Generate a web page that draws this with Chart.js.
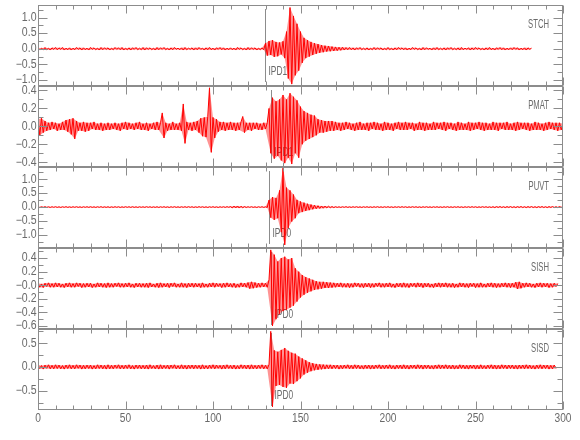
<!DOCTYPE html>
<html>
<head>
<meta charset="utf-8">
<script src="https://cdn.jsdelivr.net/npm/chart.js@4.4.1/dist/chart.umd.min.js"></script>
<style>
  html, body { margin: 0; padding: 0; background: #fff; }
  #wrap { position: relative; width: 580px; height: 440px; }
  #wrap canvas { position: absolute; left: 0; top: 0; }
</style>
</head>
<body>
<div id="wrap"></div>
<script>
// Datos de las estaciones (una muestra por segundo)
const timeStep = 1;
const stations = ["STCH", "PMAT", "PUVT", "SISH", "SISD"];
const pickTimes = [129.7, 133, 132, 133, 133];
const pickLabels = ["IPD1", "IPD1", "IPD0", "IPD0", "IPD0"];

const yMins = [-1.19, -0.453, -1.47, -0.644, -0.907];
const yMaxs = [1.40, 0.45, 1.44, 0.548, 0.80];
const yTickValues = [
  [-1, -0.5, 0, 0.5, 1],
  [-0.4, -0.2, 0, 0.2, 0.4],
  [-1, -0.5, 0, 0.5, 1],
  [-0.6, -0.4, -0.2, 0, 0.2, 0.4],
  [-0.5, 0, 0.5]
];
const yTickLabels = [
  ["\u22121.0", "\u22120.5", "0.0", "0.5", "1.0"],
  ["\u22120.4", "\u22120.2", "0.0", "0.2", "0.4"],
  ["\u22121.0", "\u22120.5", "0.0", "0.5", "1.0"],
  ["\u22120.6", "\u22120.4", "\u22120.2", "\u22120.0", "0.2", "0.4"],
  ["\u22120.5", "0.0", "0.5"]
];
const yMinorSteps = [0.25, 0.1, 0.25, 0.1, 0.25];
const xTickValues = [0, 50, 100, 150, 200, 250, 300];
const xTickLabels = ["0", "50", "100", "150", "200", "250", "300"];
const xMinorStep = 10;

const stch = [
  0.03,-0.04,0.02,-0.03,0.04,-0.03,0.02,-0.04,0.03,-0.02,
  0.04,-0.03,0.03,-0.02,0.04,-0.04,0.02,-0.03,0.03,-0.04,
  0.02,-0.03,0.04,-0.02,0.03,-0.04,0.03,-0.03,0.02,-0.04,
  0.04,-0.02,0.03,-0.03,0.02,-0.04,0.04,-0.03,0.03,-0.02,
  0.03,-0.04,0.02,-0.03,0.04,-0.02,0.03,-0.03,0.04,-0.04,
  0.02,-0.03,0.03,-0.04,0.03,-0.02,0.04,-0.03,0.02,-0.03,
  0.04,-0.04,0.03,-0.02,0.03,-0.03,0.02,-0.04,0.04,-0.03,
  0.03,-0.02,0.04,-0.03,0.02,-0.04,0.03,-0.03,0.04,-0.02,
  0.02,-0.03,0.03,-0.04,0.04,-0.03,0.02,-0.02,0.03,-0.04,
  0.03,-0.03,0.04,-0.02,0.02,-0.04,0.03,-0.03,0.04,-0.03,
  0.02,-0.04,0.03,-0.02,0.04,-0.03,0.03,-0.04,0.02,-0.03,
  0.03,-0.03,0.02,-0.04,0.04,-0.02,0.03,-0.03,0.02,-0.04,
  0.04,-0.03,0.03,-0.02,0.03,-0.04,0.02,-0.03,0.03,-0.03,
  0.18,-0.22,0.25,-0.2,0.28,-0.26,0.22,-0.24,0.2,-0.18,
  0.24,-0.3,0.55,-0.95,1.32,-1.13,1.05,-0.85,0.8,-0.7,
  0.55,-0.45,0.35,-0.3,0.28,-0.25,0.22,-0.2,0.18,-0.16,
  0.15,-0.13,0.12,-0.11,0.1,-0.09,0.09,-0.08,0.07,-0.07,
  0.06,-0.06,0.05,-0.05,0.05,-0.04,0.04,-0.03,0.04,-0.03,
  0.03,-0.04,0.03,-0.02,0.04,-0.03,0.02,-0.03,0.03,-0.04,
  0.02,-0.03,0.04,-0.03,0.03,-0.02,0.03,-0.04,0.02,-0.03,
  0.04,-0.03,0.02,-0.04,0.03,-0.03,0.04,-0.02,0.03,-0.03,
  0.03,-0.04,0.02,-0.03,0.04,-0.02,0.03,-0.03,0.02,-0.04,
  0.04,-0.03,0.03,-0.02,0.02,-0.04,0.03,-0.03,0.04,-0.03,
  0.02,-0.03,0.03,-0.04,0.03,-0.02,0.04,-0.03,0.02,-0.03,
  0.03,-0.04,0.04,-0.03,0.02,-0.02,0.03,-0.04,0.03,-0.03,
  0.04,-0.02,0.03,-0.03,0.02,-0.04,0.03,-0.03,0.04,-0.03,
  0.02,-0.04,0.03,-0.02,0.04,-0.03,0.03,-0.04,0.02,-0.03,
  0.03,-0.03,0.04,-0.02,0.03,-0.04,0.02,-0.03,0.03,-0.04,
  0.03,-0.02,0.02
];

const pmat = [
  0.08,-0.1,0.09,-0.07,0.06,-0.05,0.04,-0.04,0.05,-0.03,
  0.04,-0.05,0.03,-0.04,0.05,-0.04,0.07,-0.06,0.08,-0.09,
  0.09,-0.14,0.06,-0.05,0.04,-0.05,0.05,-0.06,0.04,-0.05,
  0.04,-0.03,0.05,-0.04,0.03,-0.04,0.04,-0.05,0.03,-0.04,
  0.04,-0.04,0.03,-0.03,0.04,-0.04,0.03,-0.05,0.04,-0.03,
  0.05,-0.04,0.04,-0.03,0.03,-0.04,0.04,-0.03,0.05,-0.04,
  0.03,-0.04,0.04,-0.05,0.03,-0.03,0.04,-0.04,0.05,-0.04,
  0.04,0.15,-0.13,0.04,-0.05,0.03,-0.04,0.05,-0.04,0.03,
  -0.04,0.04,-0.05,0.25,-0.19,0.05,-0.04,0.04,-0.05,0.05,
  -0.04,0.06,-0.07,0.09,-0.11,0.1,-0.12,0.11,0.43,-0.29,
  0.1,-0.13,0.08,-0.06,0.05,-0.04,0.05,-0.05,0.04,-0.04,
  0.05,-0.04,0.04,-0.05,0.04,-0.04,0.05,0.11,-0.07,0.04,
  -0.04,0.04,-0.05,0.04,-0.03,0.04,-0.04,0.03,-0.04,0.04,
  -0.03,0.04,0.2,-0.3,0.32,-0.36,0.28,-0.33,0.3,-0.38,
  0.35,-0.41,0.3,-0.35,0.37,-0.42,0.33,-0.3,0.29,-0.35,
  0.22,-0.2,0.17,-0.16,0.15,-0.14,0.13,-0.12,0.12,-0.1,
  0.08,-0.07,0.07,-0.07,0.06,-0.06,0.06,-0.05,0.06,-0.05,
  0.05,-0.04,0.04,-0.05,0.04,-0.04,0.05,-0.03,0.04,-0.04,
  0.03,-0.05,0.04,-0.04,0.05,-0.04,0.03,-0.04,0.04,-0.05,
  0.04,-0.03,0.05,-0.04,0.04,-0.04,0.03,-0.05,0.05,-0.04,
  0.04,-0.04,0.03,-0.05,0.04,-0.03,0.05,-0.04,0.04,-0.04,
  0.05,-0.04,0.04,-0.03,0.04,-0.05,0.03,-0.04,0.05,-0.04,
  0.04,-0.05,0.04,-0.04,0.03,-0.04,0.05,-0.04,0.04,-0.03,
  0.04,-0.04,0.05,-0.05,0.04,-0.03,0.04,-0.04,0.03,-0.05,
  0.05,-0.04,0.04,-0.04,0.03,-0.04,0.05,-0.05,0.04,-0.04,
  0.04,-0.03,0.05,-0.04,0.04,-0.05,0.04,-0.04,0.03,-0.04,
  0.05,-0.04,0.04,-0.05,0.04,-0.03,0.04,-0.04,0.05,-0.04,
  0.03,-0.04,0.04,-0.05,0.05,-0.04,0.04,-0.03,0.04,-0.04,
  0.04,-0.05,0.03,-0.04,0.05,-0.04,0.04,-0.04,0.03,-0.05,
  0.04,-0.04,0.05,-0.03,0.04,-0.04,0.04,-0.05,0.04,-0.04,
  0.03
];

const puvt = [
  0.01,-0.015,0.012,-0.01,0.015,-0.012,0.01,-0.014,0.012,-0.01,
  0.014,-0.012,0.01,-0.015,0.012,-0.01,0.015,-0.012,0.01,-0.013,
  0.012,-0.01,0.014,-0.012,0.01,-0.015,0.012,-0.01,0.013,-0.012,
  0.015,-0.012,0.01,-0.014,0.012,-0.01,0.015,-0.013,0.01,-0.012,
  0.012,-0.015,0.01,-0.012,0.014,-0.01,0.012,-0.015,0.01,-0.012,
  0.014,-0.01,0.012,-0.013,0.015,-0.012,0.01,-0.014,0.012,-0.01,
  0.01,-0.012,0.015,-0.01,0.012,-0.014,0.01,-0.012,0.013,-0.015,
  0.012,-0.01,0.014,-0.012,0.01,-0.015,0.012,-0.01,0.015,-0.012,
  0.01,-0.013,0.012,-0.01,0.014,-0.012,0.015,-0.01,0.012,-0.014,
  0.01,-0.012,0.015,-0.01,0.012,-0.013,0.01,-0.015,0.012,-0.01,
  0.014,-0.012,0.01,-0.015,0.012,-0.01,0.013,-0.012,0.015,-0.01,
  0.02,-0.03,0.035,-0.03,0.04,-0.035,0.03,-0.025,0.02,-0.015,
  0.012,-0.01,0.014,-0.012,0.01,-0.015,0.012,-0.01,0.013,-0.012,
  0.01,-0.015,0.25,-0.38,0.36,-0.46,0.33,-0.4,0.6,-0.9,
  1.4,-1.36,0.7,-0.75,0.6,-0.52,0.45,-0.4,0.26,-0.22,
  0.2,-0.18,0.16,-0.14,0.12,-0.11,0.09,-0.08,0.07,-0.06,
  0.05,-0.05,0.04,-0.04,0.035,-0.03,0.03,-0.025,0.02,-0.02,
  0.015,-0.012,0.01,-0.014,0.012,-0.01,0.015,-0.012,0.01,-0.013,
  0.012,-0.01,0.014,-0.012,0.01,-0.015,0.012,-0.01,0.013,-0.012,
  0.01,-0.014,0.012,-0.01,0.015,-0.012,0.01,-0.013,0.012,-0.01,
  0.014,-0.012,0.01,-0.015,0.012,-0.01,0.013,-0.012,0.015,-0.01,
  0.012,-0.014,0.01,-0.012,0.015,-0.01,0.012,-0.013,0.01,-0.015,
  0.012,-0.01,0.014,-0.012,0.01,-0.015,0.012,-0.01,0.013,-0.012,
  0.01,-0.014,0.012,-0.01,0.015,-0.012,0.01,-0.013,0.012,-0.01,
  0.014,-0.012,0.01,-0.015,0.012,-0.01,0.013,-0.012,0.015,-0.01,
  0.012,-0.014,0.01,-0.012,0.015,-0.01,0.012,-0.013,0.01,-0.015,
  0.015,-0.02,0.018,-0.015,0.02,-0.018,0.015,-0.02,0.018,-0.015,
  0.02,-0.018,0.015,-0.02,0.018,-0.015,0.02,-0.018,0.015,-0.02,
  0.018,-0.015,0.02,-0.018,0.015,-0.02,0.018,-0.015,0.02,-0.018,
  0.015,-0.02,0.018,-0.015,0.02,-0.018,0.015,-0.02,0.018,-0.015,
  0.02
];

const sish = [
  0.03,-0.03,0.02,-0.035,0.03,-0.02,0.035,-0.03,0.025,-0.03,
  0.035,-0.025,0.03,-0.03,0.02,-0.035,0.03,-0.025,0.035,-0.03,
  0.025,-0.03,0.035,-0.02,0.03,-0.035,0.025,-0.03,0.03,-0.025,
  0.03,-0.035,0.02,-0.03,0.035,-0.025,0.03,-0.03,0.025,-0.035,
  0.035,-0.03,0.025,-0.03,0.03,-0.02,0.035,-0.03,0.025,-0.03,
  0.03,-0.025,0.035,-0.03,0.02,-0.035,0.03,-0.025,0.03,-0.03,
  0.025,-0.03,0.03,-0.035,0.035,-0.025,0.02,-0.03,0.03,-0.035,
  0.035,-0.03,0.025,-0.025,0.03,-0.035,0.03,-0.02,0.035,-0.03,
  0.02,-0.03,0.035,-0.03,0.025,-0.035,0.03,-0.025,0.03,-0.03,
  0.03,-0.025,0.025,-0.035,0.035,-0.03,0.02,-0.03,0.03,-0.025,
  0.035,-0.03,0.03,-0.02,0.025,-0.035,0.03,-0.03,0.035,-0.025,
  0.025,-0.03,0.03,-0.035,0.02,-0.03,0.035,-0.025,0.03,-0.03,
  0.04,-0.05,0.05,-0.045,0.04,-0.035,0.03,-0.03,0.035,-0.025,
  0.03,-0.03,0.08,0.52,-0.6,0.45,-0.5,0.35,-0.42,0.4,
  -0.38,0.42,-0.36,0.38,-0.33,0.4,-0.3,0.25,-0.24,0.2,
  -0.18,0.15,-0.14,0.12,-0.11,0.1,-0.09,0.08,-0.07,0.06,
  -0.06,0.05,-0.05,0.05,-0.04,0.045,-0.04,0.04,-0.035,0.035,
  -0.03,0.03,-0.025,0.035,-0.03,0.025,-0.03,0.03,-0.035,0.025,
  -0.03,0.035,-0.02,0.03,-0.03,0.025,-0.035,0.03,-0.025,0.03,
  -0.035,0.025,-0.03,0.03,-0.02,0.035,-0.03,0.025,-0.03,0.03,
  -0.025,0.035,-0.03,0.02,-0.035,0.03,-0.025,0.03,-0.03,0.035,
  -0.03,0.025,-0.035,0.03,-0.02,0.03,-0.03,0.035,-0.025,0.03,
  -0.035,0.03,-0.025,0.03,-0.03,0.02,-0.035,0.03,-0.025,0.035,
  -0.03,0.03,-0.025,0.035,-0.03,0.025,-0.03,0.03,-0.035,0.02,
  -0.03,0.035,-0.025,0.03,-0.03,0.025,-0.035,0.03,-0.02,0.03,
  -0.035,0.025,-0.03,0.035,-0.03,0.02,-0.03,0.03,-0.025,0.035,
  -0.03,0.03,-0.035,0.025,-0.03,0.03,-0.025,0.035,-0.03,0.03,
  -0.035,0.03,-0.03,0.045,-0.055,0.05,-0.045,0.03,-0.03,0.035,
  -0.025,0.03,-0.03,0.02,-0.035,0.03,-0.025,0.035,-0.03,0.03,
  -0.025,0.03,-0.035,0.025,-0.03,0.03,-0.02,0.025
];

const sisd = [
  0.04,-0.035,0.03,-0.045,0.04,-0.03,0.045,-0.04,0.035,-0.04,
  0.045,-0.035,0.04,-0.04,0.03,-0.045,0.04,-0.035,0.045,-0.04,
  0.035,-0.04,0.045,-0.03,0.04,-0.045,0.035,-0.04,0.04,-0.035,
  0.04,-0.045,0.03,-0.04,0.045,-0.035,0.04,-0.04,0.035,-0.045,
  0.045,-0.04,0.035,-0.04,0.04,-0.03,0.045,-0.04,0.035,-0.04,
  0.04,-0.035,0.045,-0.04,0.03,-0.045,0.04,-0.035,0.04,-0.04,
  0.035,-0.04,0.04,-0.045,0.045,-0.035,0.03,-0.04,0.04,-0.045,
  0.045,-0.04,0.035,-0.035,0.04,-0.045,0.04,-0.03,0.045,-0.04,
  0.03,-0.04,0.045,-0.04,0.035,-0.045,0.04,-0.035,0.04,-0.04,
  0.04,-0.035,0.035,-0.045,0.045,-0.04,0.03,-0.04,0.04,-0.035,
  0.045,-0.04,0.04,-0.03,0.035,-0.045,0.04,-0.04,0.045,-0.035,
  0.035,-0.04,0.04,-0.045,0.03,-0.04,0.045,-0.035,0.04,-0.04,
  0.04,-0.045,0.045,-0.04,0.035,-0.04,0.04,-0.035,0.045,-0.04,
  0.035,-0.04,0.05,0.75,-0.84,0.35,-0.4,0.32,-0.38,0.36,
  -0.42,0.4,-0.44,0.34,-0.35,0.3,-0.36,0.28,-0.3,0.22,
  -0.24,0.18,-0.16,0.14,-0.12,0.1,-0.09,0.08,-0.07,0.065,
  -0.06,0.055,-0.05,0.05,-0.045,0.045,-0.04,0.045,-0.04,0.04,
  -0.035,0.04,-0.045,0.035,-0.04,0.04,-0.03,0.045,-0.04,0.035,
  -0.04,0.045,-0.035,0.04,-0.04,0.03,-0.045,0.04,-0.035,0.04,
  -0.045,0.035,-0.04,0.04,-0.03,0.045,-0.04,0.035,-0.04,0.04,
  -0.035,0.045,-0.04,0.03,-0.045,0.04,-0.035,0.04,-0.04,0.045,
  -0.04,0.035,-0.045,0.04,-0.03,0.04,-0.04,0.045,-0.035,0.04,
  -0.045,0.04,-0.035,0.04,-0.04,0.03,-0.045,0.04,-0.035,0.045,
  -0.04,0.04,-0.035,0.045,-0.04,0.035,-0.04,0.04,-0.045,0.03,
  -0.04,0.045,-0.035,0.04,-0.04,0.035,-0.045,0.04,-0.03,0.04,
  -0.045,0.035,-0.04,0.045,-0.04,0.03,-0.04,0.04,-0.035,0.045,
  -0.04,0.04,-0.045,0.035,-0.04,0.045,-0.035,0.04,-0.04,0.04,
  -0.035,0.04,-0.04,0.035,-0.045,0.04,-0.035,0.04,-0.04,0.045,
  -0.035,0.04,-0.04,0.03,-0.045,0.04,-0.035,0.045,-0.04,0.04,
  -0.035,0.04,-0.045,0.035,-0.04,0.04,-0.03
];

const traces = [stch, pmat, puvt, sish, sisd];

// Layout de los paneles
const panelTop = 5;
const panelHeight = 81;
const plotLeft = 38;
const plotRight = 563;
const frameColor = "#8c8c8c";
const textColor = "#6a6a6a";
const textFont = '12px "Liberation Sans", Arial, sans-serif';

function drawText(ctx, text, x, y, align, sx) {
  ctx.save();
  ctx.translate(x, y);
  ctx.scale(sx, 1);
  ctx.font = textFont;
  ctx.fillStyle = textColor;
  ctx.textAlign = align;
  ctx.textBaseline = "middle";
  ctx.fillText(text, 0, 0);
  ctx.restore();
}

function seisPanel(i) {
  return {
    id: "seis" + i,
    beforeDatasetsDraw(chart) {
      const { ctx, chartArea: a, scales } = chart;
      const px = Math.round(scales.x.getPixelForValue(pickTimes[i])) + 0.5;
      ctx.save();
      ctx.strokeStyle = "#8c8c8c";
      ctx.lineWidth = 1;
      ctx.beginPath();
      ctx.moveTo(px, a.top + 4);
      ctx.lineTo(px, a.bottom - 4);
      ctx.stroke();
      ctx.restore();
      drawText(ctx, pickLabels[i], px + 3, a.bottom - 14.5, "left", 0.7);

      // envolvente de la traza (picos positivos arriba, negativos abajo) en rojo claro
      const pts = chart.getDatasetMeta(0).data;
      const vals = traces[i];
      const base = scales.y.getPixelForValue(0);
      const up = [], lo = [];
      pts.forEach((p, k) => (vals[k] >= 0 ? up : lo).push(p));
      ctx.save();
      ctx.beginPath();
      ctx.rect(a.left, a.top, a.right - a.left, a.bottom - a.top);
      ctx.clip();
      ctx.beginPath();
      ctx.moveTo(pts[0].x, base);
      up.forEach(p => ctx.lineTo(p.x, p.y));
      ctx.lineTo(pts[pts.length - 1].x, base);
      lo.reverse().forEach(p => ctx.lineTo(p.x, p.y));
      ctx.closePath();
      ctx.fillStyle = "rgba(255,0,0,0.42)";
      ctx.fill();
      ctx.restore();
    },
    afterDatasetsDraw(chart) {
      const { ctx, chartArea: a, scales } = chart;
      const x = scales.x, y = scales.y;
      const L = Math.round(a.left) + 0.5, R = Math.round(a.right) - 0.5;
      const T = Math.round(a.top) + 0.5, B = Math.round(a.bottom) - 0.5;
      ctx.save();
      ctx.strokeStyle = frameColor;
      ctx.lineWidth = 1;
      ctx.strokeRect(L, T, R - L, B - T);
      ctx.beginPath();
      // ticks del eje X (arriba y abajo, hacia dentro)
      for (let v = 0; v <= 300; v += xMinorStep) {
        const px = Math.round(x.getPixelForValue(v)) + 0.5;
        const len = xTickValues.includes(v) ? 8 : 4;
        ctx.moveTo(px, T); ctx.lineTo(px, T + len);
        ctx.moveTo(px, B); ctx.lineTo(px, B - len);
      }
      // ticks del eje Y
      const step = yMinorSteps[i];
      const start = Math.ceil(yMins[i] / step - 1e-6);
      const end = Math.floor(yMaxs[i] / step + 1e-6);
      for (let k = start; k <= end; k++) {
        const v = k * step;
        const py = Math.round(y.getPixelForValue(v)) + 0.5;
        const major = yTickValues[i].some(t => Math.abs(t - v) < 1e-6);
        const len = major ? 9 : 5;
        ctx.moveTo(L, py); ctx.lineTo(L + len, py);
        ctx.moveTo(R, py); ctx.lineTo(R - len, py);
      }
      ctx.stroke();
      ctx.restore();

      // etiquetas Y
      yTickValues[i].forEach((v, k) => {
        drawText(ctx, yTickLabels[i][k], a.left - 1.5, y.getPixelForValue(v), "right", 0.88);
      });
      // etiquetas X solo en el último panel
      if (i === traces.length - 1) {
        xTickValues.forEach((v, k) => {
          drawText(ctx, xTickLabels[k], x.getPixelForValue(v), a.bottom + 8.5, "center", 0.85);
        });
      }
      // nombre de la estación
      drawText(ctx, stations[i], 549, a.top + 20, "right", 0.64);
    }
  };
}

const wrap = document.getElementById("wrap");

traces.forEach((vals, i) => {
  const cv = document.createElement("canvas");
  cv.width = 580;
  cv.height = 440;
  wrap.appendChild(cv);
  const top = panelTop + i * panelHeight;

  new Chart(cv, {
    type: "line",
    data: {
      datasets: [{
        data: vals.map((v, k) => ({ x: k * timeStep, y: v })),
        borderColor: "#ff0000",
        borderWidth: 1,
        pointRadius: 0,
        tension: 0,
        fill: false
      }]
    },
    options: {
      responsive: false,
      animation: false,
      events: [],
      parsing: false,
      normalized: true,
      layout: {
        padding: { left: plotLeft, right: 580 - plotRight, top: top, bottom: 440 - top - panelHeight }
      },
      plugins: { legend: { display: false }, tooltip: { enabled: false } },
      scales: {
        x: { type: "linear", min: 0, max: 300, display: false },
        y: { type: "linear", min: yMins[i], max: yMaxs[i], display: false }
      }
    },
    plugins: [seisPanel(i)]
  });
});
</script>
</body>
</html>
